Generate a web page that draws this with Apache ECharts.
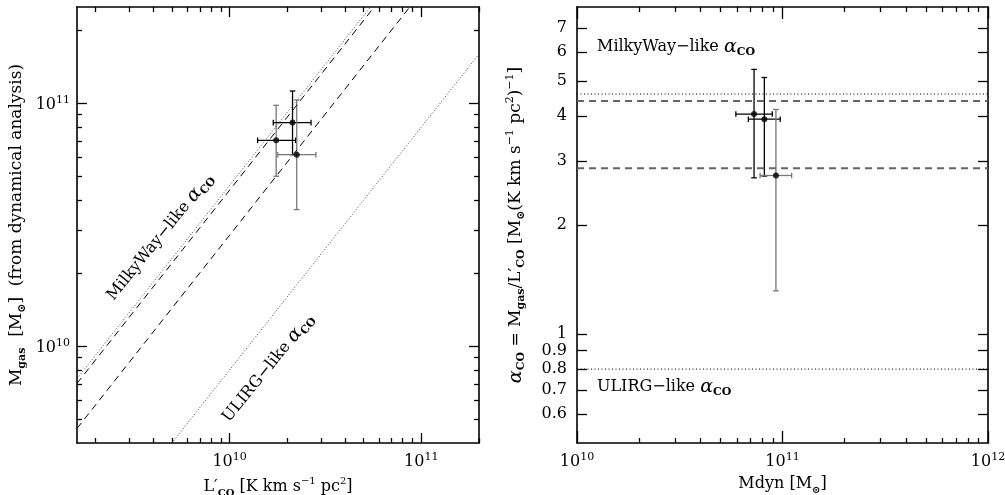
<!DOCTYPE html>
<html>
<head>
<meta charset="utf-8">
<script src="https://cdn.jsdelivr.net/npm/echarts@6/dist/echarts.min.js"></script>
<style>html,body{margin:0;padding:0;background:#fff}#c{width:1005px;height:495px}</style>
</head>
<body>
<div id="c"></div>
<script>
// ---------- DATA ----------
// Left panel: L'CO vs Mgas
const lcoVal   = [1.75e10, 2.13e10, 2.24e10];
const lcoLo    = [1.40e10, 1.69e10, 1.785e10];
const lcoHi    = [2.21e10, 2.66e10, 2.82e10];
const mgasVal  = [7.06e10, 8.35e10, 6.16e10];
const mgasLo   = [5.02e10, 6.16e10, 3.66e10];
const mgasHi   = [9.84e10, 1.127e11, 1.035e11];
// Right panel: Mdyn vs alphaCO
const mdynVal  = [7.27e10, 8.16e10, 9.29e10];
const mdynLo   = [5.93e10, 6.82e10, 7.78e10];
const mdynHi   = [8.92e10, 9.75e10, 1.108e11];
const aVal     = [4.05, 3.92, 2.74];
const aLo      = [2.70, 2.73, 1.316];
const aHi      = [5.38, 5.11, 4.17];
// error bar colours per point [x-bar, y-bar]
const leftErrColors  = [['#000', '#777'], ['#000', '#000'], ['#777', '#777']];
const rightErrColors = [['#000', '#000'], ['#000', '#000'], ['#777', '#777']];
// reference alpha_CO relations
const alphaDotted = [4.6, 0.8];
const alphaDashed = [4.4, 2.87];
// axis ranges and ticks
const leftXRange  = [1.6e9, 2e11];
const leftYRange  = [4e9, 2.5e11];
const rightXRange = [1e10, 1e12];
const rightYRange = [0.5, 8];
const leftXMajor  = [1e10, 1e11];
const leftXMinor  = [2e9,3e9,4e9,5e9,6e9,7e9,8e9,9e9,2e10,3e10,4e10,5e10,6e10,7e10,8e10,9e10,2e11];
const leftYMajor  = [1e10, 1e11];
const leftYMinor  = [5e9,6e9,7e9,8e9,9e9,2e10,3e10,4e10,5e10,6e10,7e10,8e10,9e10,2e11];
const rightXMajor = [1e10, 1e11, 1e12];
const rightXMinor = [2e10,3e10,4e10,5e10,6e10,7e10,8e10,9e10,2e11,3e11,4e11,5e11,6e11,7e11,8e11,9e11];
const rightYTicks = [0.6,0.7,0.8,0.9,1,2,3,4,5,6,7];

// ---------- CHART ----------
const FONT = 'DejaVu Serif';
function richFor(size) {
  const sm = Math.round(size * 0.62);
  return {
    n:   {fontFamily: FONT, fontSize: size, color: '#000', lineHeight: 22, verticalAlign: 'middle'},
    sub: {fontFamily: FONT, fontSize: sm, color: '#000', lineHeight: 22, verticalAlign: 'bottom', fontWeight: 'bold'},
    sup: {fontFamily: FONT, fontSize: sm, color: '#000', lineHeight: 22, verticalAlign: 'top'},
    a:   {fontFamily: FONT, fontSize: size + 2, color: '#000', lineHeight: 22, verticalAlign: 'middle', fontStyle: 'italic'}
  };
}
const tickRich = {
  n:   {fontFamily: FONT, fontSize: 16, color: '#000', lineHeight: 18, verticalAlign: 'bottom'},
  sup: {fontFamily: FONT, fontSize: 11, color: '#000', lineHeight: 18, verticalAlign: 'top'}
};
function powFmt(v) {
  const e = Math.round(Math.log10(v));
  return '{n|10}{sup|' + e + '}';
}

const grids = [
  {left: 77, top: 7, width: 402, height: 436, outerBoundsMode: 'none', containLabel: false},
  {left: 577, top: 7, width: 411, height: 436, outerBoundsMode: 'none', containLabel: false}
];
const xAxes = [], yAxes = [];
function addAxes(list, dir, gi, range, major, minor, majLen, minLen, label, name) {
  const posA = dir === 'x' ? 'bottom' : 'left';
  const posB = dir === 'x' ? 'top' : 'right';
  const base = {type: 'log', gridIndex: gi, min: range[0], max: range[1], splitLine: {show: false}};
  list.push(Object.assign({}, base, {
    position: posA,
    axisLine: {show: true, lineStyle: {color: '#000', width: 1.6}},
    axisTick: {show: true, inside: true, length: majLen, customValues: major, lineStyle: {color: '#000', width: 1.3}},
    axisLabel: label,
    name: name.text, nameLocation: 'middle', nameGap: name.gap, nameRotate: dir === 'y' ? 90 : 0,
    nameTextStyle: {rich: richFor(name.size), fontFamily: FONT, fontSize: name.size}
  }));
  list.push(Object.assign({}, base, {
    position: posA,
    axisLine: {show: false},
    axisTick: {show: minor.length > 0, inside: true, length: minLen, customValues: minor, lineStyle: {color: '#000', width: 1.3}},
    axisLabel: {show: false}
  }));
  list.push(Object.assign({}, base, {
    position: posB,
    axisLine: {show: true, lineStyle: {color: '#000', width: 1.6}},
    axisTick: {show: true, inside: true, length: majLen, customValues: major, lineStyle: {color: '#000', width: 1.3}},
    axisLabel: {show: false}
  }));
  list.push(Object.assign({}, base, {
    position: posB,
    axisLine: {show: false},
    axisTick: {show: minor.length > 0, inside: true, length: minLen, customValues: minor, lineStyle: {color: '#000', width: 1.3}},
    axisLabel: {show: false}
  }));
}
addAxes(xAxes, 'x', 0, leftXRange, leftXMajor, leftXMinor, 10, 5,
  {show: true, customValues: leftXMajor, formatter: powFmt, rich: tickRich, margin: 9},
  {text: '{n|L′}{sub|CO}{n| [K km s}{sup|−1}{n| pc}{sup|2}{n|]}', gap: 33, size: 16});
addAxes(yAxes, 'y', 0, leftYRange, leftYMajor, leftYMinor, 10, 5,
  {show: true, customValues: leftYMajor, formatter: powFmt, rich: tickRich, margin: 7},
  {text: '{n|M}{sub|gas}{n|  [M}{sub|⊙}{n|]  (from dynamical analysis)}', gap: 49, size: 17});
addAxes(xAxes, 'x', 1, rightXRange, rightXMajor, rightXMinor, 12, 5,
  {show: true, customValues: rightXMajor, formatter: powFmt, rich: tickRich, margin: 9, showMinLabel: true, showMaxLabel: true},
  {text: '{n|Mdyn [M}{sub|⊙}{n|]}', gap: 30, size: 16});
addAxes(yAxes, 'y', 1, rightYRange, rightYTicks, [], 10, 5,
  {show: true, customValues: rightYTicks, formatter: function (v) { return String(Math.round(v * 10) / 10); },
   fontFamily: FONT, fontSize: 16, color: '#000', margin: 10},
  {text: '{a|α}{sub|CO}{n| = M}{sub|gas}{n|/L′}{sub|CO}{n| [M}{sub|⊙}{n|(K km s}{sup|−1}{n| pc}{sup|2}{n|)}{sup|−1}{n|]}', gap: 50, size: 17});

const series = [];
function relLine(alpha, dashType, color, width) {
  return {
    type: 'line', xAxisIndex: 0, yAxisIndex: 0, symbol: 'none', silent: true, clip: true,
    data: [[leftXRange[0], alpha * leftXRange[0]], [leftXRange[1], alpha * leftXRange[1]]],
    lineStyle: {type: dashType, color: color, width: width}
  };
}
alphaDotted.forEach(a => series.push(relLine(a, [1, 2], '#444', 1)));
alphaDashed.forEach(a => series.push(relLine(a, [7, 5], '#000', 1)));
function hLine(alpha, dashType, color, width) {
  return {
    type: 'line', xAxisIndex: 4, yAxisIndex: 4, symbol: 'none', silent: true,
    data: [[rightXRange[0], alpha], [rightXRange[1], alpha]],
    lineStyle: {type: dashType, color: color, width: width}
  };
}
alphaDotted.forEach(a => series.push(hLine(a, [1, 2.5], '#000', 1)));
alphaDashed.forEach(a => series.push(hLine(a, [7, 5], '#666', 2)));

function errSeries(xi, yi, xs, xl, xh, ys, yl, yh, colors) {
  const data = xs.map((v, i) => [v, ys[i], xl[i], xh[i], yl[i], yh[i], i]);
  return {
    type: 'custom', xAxisIndex: xi, yAxisIndex: yi, silent: true, clip: true,
    encode: {x: 0, y: 1},
    data: data,
    renderItem: function (params, api) {
      const x = api.value(0), y = api.value(1);
      const c = api.coord([x, y]);
      const xl = api.coord([api.value(2), y]);
      const xh = api.coord([api.value(3), y]);
      const yl = api.coord([x, api.value(4)]);
      const yh = api.coord([x, api.value(5)]);
      const col = colors[api.value(6)];
      const cap = 2.8;
      const sx = {stroke: col[0], lineWidth: 1.3};
      const sy = {stroke: col[1], lineWidth: 1.3};
      return {
        type: 'group',
        children: [
          {type: 'line', shape: {x1: xl[0], y1: c[1], x2: xh[0], y2: c[1]}, style: sx},
          {type: 'line', shape: {x1: xl[0], y1: c[1] - cap, x2: xl[0], y2: c[1] + cap}, style: sx},
          {type: 'line', shape: {x1: xh[0], y1: c[1] - cap, x2: xh[0], y2: c[1] + cap}, style: sx},
          {type: 'line', shape: {x1: c[0], y1: yl[1], x2: c[0], y2: yh[1]}, style: sy},
          {type: 'line', shape: {x1: c[0] - cap, y1: yl[1], x2: c[0] + cap, y2: yl[1]}, style: sy},
          {type: 'line', shape: {x1: c[0] - cap, y1: yh[1], x2: c[0] + cap, y2: yh[1]}, style: sy}
        ]
      };
    }
  };
}
series.push(errSeries(0, 0, lcoVal, lcoLo, lcoHi, mgasVal, mgasLo, mgasHi, leftErrColors));
series.push(errSeries(4, 4, mdynVal, mdynLo, mdynHi, aVal, aLo, aHi, rightErrColors));
series.push({type: 'scatter', xAxisIndex: 0, yAxisIndex: 0, symbolSize: 6, itemStyle: {color: '#000'},
  data: lcoVal.map((v, i) => [v, mgasVal[i]]), z: 5});
series.push({type: 'scatter', xAxisIndex: 4, yAxisIndex: 4, symbolSize: 6, itemStyle: {color: '#000'},
  data: mdynVal.map((v, i) => [v, aVal[i]]), z: 5});

const annRich = {
  n:   {fontFamily: FONT, fontSize: 16, fill: '#000', lineHeight: 22, verticalAlign: 'middle'},
  a:   {fontFamily: FONT, fontSize: 19, fill: '#000', lineHeight: 22, verticalAlign: 'middle', fontStyle: 'italic'},
  sub: {fontFamily: FONT, fontSize: 11, fill: '#000', lineHeight: 22, verticalAlign: 'bottom', fontWeight: 'bold'}
};
const ang = 51 * Math.PI / 180;
const graphic = [
  {type: 'text', x: 160, y: 237, rotation: ang, style: {text: '{n|MilkyWay−like }{a|α}{sub|CO}', rich: annRich, align: 'center', verticalAlign: 'middle'}},
  {type: 'text', x: 268, y: 368, rotation: ang, style: {text: '{n|ULIRG−like }{a|α}{sub|CO}', rich: annRich, align: 'center', verticalAlign: 'middle'}},
  {type: 'text', x: 597, y: 47, style: {text: '{n|MilkyWay−like }{a|α}{sub|CO}', rich: annRich, align: 'left', verticalAlign: 'middle'}},
  {type: 'text', x: 597, y: 387, style: {text: '{n|ULIRG−like }{a|α}{sub|CO}', rich: annRich, align: 'left', verticalAlign: 'middle'}}
];

const chart = echarts.init(document.getElementById('c'), null, {renderer: 'canvas'});
chart.setOption({
  animation: false,
  backgroundColor: '#fff',
  grid: grids,
  xAxis: xAxes,
  yAxis: yAxes,
  series: series,
  graphic: graphic
});
</script>
</body>
</html>
